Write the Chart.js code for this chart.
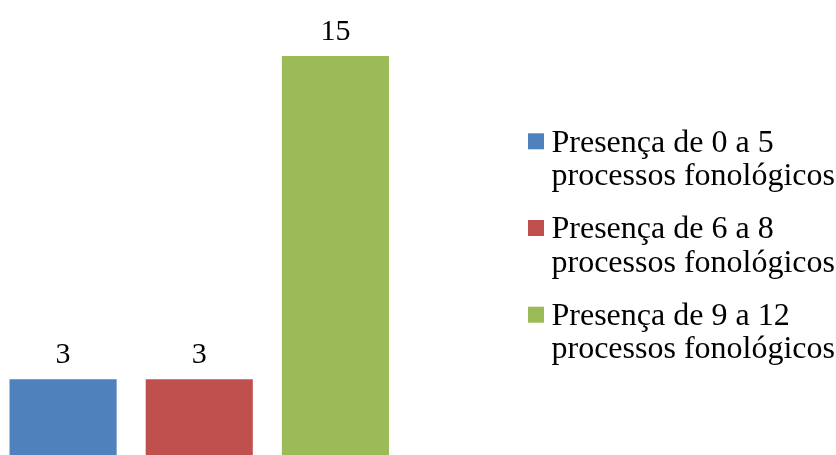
<!DOCTYPE html>
<html>
<head>
<meta charset="utf-8">
<script src="https://cdn.jsdelivr.net/npm/chart.js@4"></script>
<style>
  html, body { margin: 0; padding: 0; background: #fff; overflow: hidden; }
  body { width: 836px; height: 455px; position: relative; }
  #wrap { position: absolute; left: -5px; top: 0; width: 841px; height: 462px; }
</style>
</head>
<body>
<div id="wrap"><canvas id="grafico"></canvas></div>
<script>
  // Processos fonológicos por faixa
  const categorias = [
    ['Presença de 0 a 5', 'processos fonológicos'],
    ['Presença de 6 a 8', 'processos fonológicos'],
    ['Presença de 9 a 12', 'processos fonológicos']
  ];
  const valores = [3, 3, 15];
  const cores = ['#4F81BD', '#C0504D', '#9BBB59'];

  const FONTE = "'Liberation Serif', 'Times New Roman', serif";

  // valor acima de cada barra
  const rotulosValor = {
    id: 'rotulosValor',
    afterDatasetsDraw(chart) {
      const ctx = chart.ctx;
      const meta = chart.getDatasetMeta(0);
      ctx.save();
      ctx.font = '30px ' + FONTE;
      ctx.fillStyle = '#000';
      ctx.textAlign = 'center';
      ctx.textBaseline = 'alphabetic';
      meta.data.forEach(function (bar, i) {
        ctx.fillText(String(valores[i]), bar.x, bar.y - 16);
      });
      ctx.restore();
    }
  };

  // legenda à direita, com rótulos em duas linhas
  const legendaDireita = {
    id: 'legendaDireita',
    afterDraw(chart) {
      const ctx = chart.ctx;
      const x0 = chart.chartArea.right + 124.5;
      ctx.save();
      ctx.font = '32px ' + FONTE;
      ctx.textAlign = 'left';
      ctx.textBaseline = 'alphabetic';
      categorias.forEach(function (linhas, i) {
        const base = 151.7 + i * 86.7;
        ctx.fillStyle = cores[i];
        ctx.fillRect(x0, base - 18.4, 16, 16);
        ctx.fillStyle = '#000';
        linhas.forEach(function (txt, j) {
          ctx.fillText(txt, x0 + 23.5, base + j * 33.3);
        });
      });
      ctx.restore();
    }
  };

  new Chart(document.getElementById('grafico'), {
    type: 'bar',
    data: {
      labels: categorias.map(function (c) { return c.join(' '); }),
      datasets: [{
        data: valores,
        backgroundColor: cores,
        borderWidth: 0,
        barPercentage: 107 / 136,
        categoryPercentage: 1
      }]
    },
    options: {
      responsive: true,
      maintainAspectRatio: false,
      animation: false,
      devicePixelRatio: 1,
      layout: { padding: { left: 0, right: 432.5, top: 2, bottom: 2 } },
      plugins: {
        legend: { display: false },
        tooltip: { enabled: false }
      },
      scales: {
        x: { display: false, offset: true },
        y: { display: false, min: 0, max: 17 }
      }
    },
    plugins: [rotulosValor, legendaDireita]
  });
</script>
</body>
</html>
